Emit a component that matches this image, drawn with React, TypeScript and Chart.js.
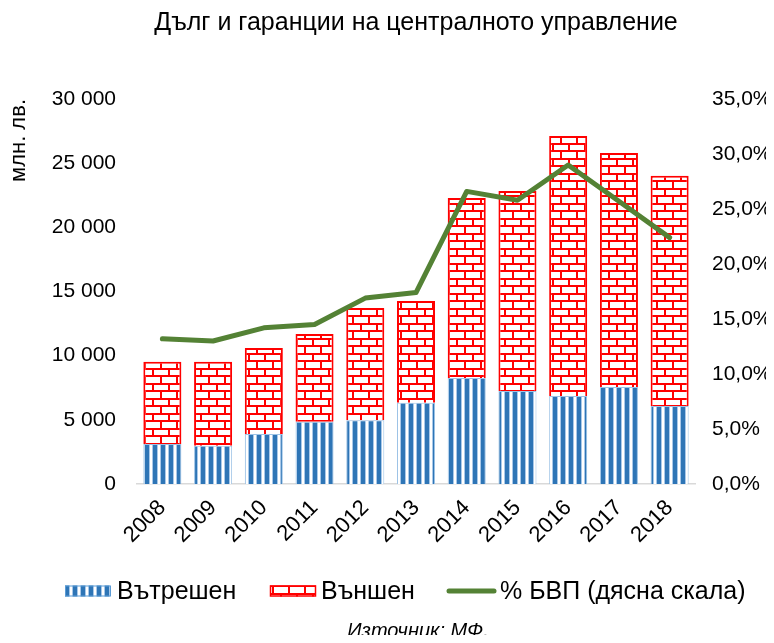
import React, { useEffect, useRef } from "react";
import { Chart, registerables } from "chart.js";

Chart.register(...registerables);

const TITLE = "Дълг и гаранции на централното управление";
const Y_TITLE = "млн. лв.";
const SOURCE = "Източник: МФ.";
const years = ["2008", "2009", "2010", "2011", "2012", "2013", "2014", "2015", "2016", "2017", "2018"];
const internalDebt = [3120, 2990, 3900, 4860, 4960, 6340, 8260, 7250, 6860, 7560, 6080];
const externalDebt = [6410, 6540, 6700, 6830, 8760, 7920, 14030, 15590, 20260, 18240, 17930];
const pctGdp = [13.2, 13.0, 14.2, 14.5, 16.9, 17.4, 26.6, 25.8, 29.0, 25.7, 22.4];
const seriesNames = ["Вътрешен", "Външен", "% БВП (дясна скала)"];

const FONT = "'Liberation Sans', Arial, sans-serif";
const BLUE = "#2E75B6";
const RED = "#FF0000";
const GREEN = "#548235";

function makeStripes(): CanvasPattern | string {
  const c = document.createElement("canvas");
  c.width = 8;
  c.height = 8;
  const g = c.getContext("2d");
  if (!g) return BLUE;
  g.fillStyle = "#FFFFFF";
  g.fillRect(0, 0, 8, 8);
  g.fillStyle = "#A9C8E8";
  g.fillRect(0, 0, 1, 8);
  g.fillRect(5, 0, 1, 8);
  g.fillStyle = BLUE;
  g.fillRect(1, 0, 4, 8);
  return g.createPattern(c, "repeat") as CanvasPattern;
}

function makeBricks(): CanvasPattern | string {
  const c = document.createElement("canvas");
  c.width = 16;
  c.height = 15;
  const g = c.getContext("2d");
  if (!g) return RED;
  g.fillStyle = "#FFFFFF";
  g.fillRect(0, 0, 16, 15);
  g.fillStyle = RED;
  g.fillRect(0, 0, 16, 2);
  g.fillRect(0, 7, 16, 2);
  g.fillRect(0, 0, 2, 7);
  g.fillRect(8, 7, 2, 8);
  return g.createPattern(c, "repeat") as CanvasPattern;
}

export default function App() {
  const ref = useRef<HTMLCanvasElement>(null);

  useEffect(() => {
    if (!ref.current) return;
    const stripes = makeStripes();
    const bricks = makeBricks();

    const legendPlugin = {
      id: "customLegend",
      afterDraw(chart: any) {
        const ctx = chart.ctx as CanvasRenderingContext2D;
        ctx.save();
        const cy = 583;
        ctx.font = `25px ${FONT}`;
        ctx.fillStyle = "#000";
        ctx.textBaseline = "middle";
        ctx.textAlign = "left";
        // item 1
        ctx.fillStyle = stripes as any;
        ctx.fillRect(57, cy - 5.5, 46, 11);
        ctx.strokeStyle = "#5B9BD5";
        ctx.lineWidth = 1;
        ctx.strokeRect(57.5, cy - 5, 45, 10);
        ctx.fillStyle = "#000";
        ctx.fillText(seriesNames[0], 109, cy + 1);
        // item 2
        ctx.fillStyle = bricks as any;
        ctx.fillRect(262, cy - 5.5, 46, 11);
        ctx.strokeStyle = RED;
        ctx.lineWidth = 1.5;
        ctx.strokeRect(262.5, cy - 5, 45, 10);
        ctx.fillStyle = "#000";
        ctx.fillText(seriesNames[1], 313, cy + 1);
        // item 3
        ctx.strokeStyle = GREEN;
        ctx.lineWidth = 5;
        ctx.lineCap = "round";
        ctx.beginPath();
        ctx.moveTo(441, cy);
        ctx.lineTo(486, cy);
        ctx.stroke();
        ctx.fillStyle = "#000";
        ctx.fillText(seriesNames[2], 492, cy + 1);
        // source
        ctx.font = `italic 20px ${FONT}`;
        ctx.textAlign = "center";
        ctx.fillText(SOURCE, 410, 623);
        ctx.restore();
      },
    };

    const chart = new Chart(ref.current, {
      type: "bar",
      data: {
        labels: years,
        datasets: [
          {
            type: "bar",
            label: seriesNames[0],
            data: internalDebt,
            backgroundColor: stripes as any,
            borderColor: "#9DC3E6",
            borderWidth: 1,
            borderSkipped: "bottom",
            yAxisID: "y",
            order: 1,
            categoryPercentage: 1,
            barPercentage: 0.75,
          },
          {
            type: "bar",
            label: seriesNames[1],
            data: externalDebt,
            backgroundColor: bricks as any,
            borderColor: RED,
            borderWidth: 2,
            yAxisID: "y",
            order: 1,
            categoryPercentage: 1,
            barPercentage: 0.75,
          },
          {
            type: "line",
            label: seriesNames[2],
            data: pctGdp,
            borderColor: GREEN,
            borderWidth: 5,
            pointRadius: 0,
            tension: 0,
            yAxisID: "y1",
            order: 0,
            borderCapStyle: "round",
            borderJoinStyle: "round",
          } as any,
        ],
      },
      options: {
        animation: false,
        responsive: false,
        maintainAspectRatio: false,
        layout: { padding: { left: 0, right: 0, top: 0, bottom: 71 } },
        plugins: {
          legend: { display: false },
          tooltip: { enabled: false },
          title: {
            display: true,
            text: TITLE,
            fullSize: false,
            color: "#000",
            font: { family: FONT, size: 25, weight: "normal", lineHeight: 1.2 },
            padding: { top: 0, bottom: 61 },
          },
        },
        scales: {
          x: {
            stacked: true,
            grid: { display: false },
            border: { display: true, color: "#D9D9D9", width: 1.5 },
            ticks: {
              color: "#000",
              font: { family: FONT, size: 22 },
              minRotation: 45,
              maxRotation: 45,
              padding: 3,
            },
            afterFit: (s: any) => {
              s.height = 80;
            },
          },
          y: {
            stacked: true,
            min: 0,
            max: 30000,
            grid: { display: false, drawTicks: false },
            border: { display: false },
            ticks: {
              stepSize: 5000,
              color: "#000",
              padding: 21,
              font: { family: FONT, size: 21 },
              callback: (v: any) => (v === 0 ? "0" : `${Number(v) / 1000} 000`),
            },
            title: {
              display: true,
              text: Y_TITLE,
              align: "end",
              color: "#000",
              font: { family: FONT, size: 22, lineHeight: 1 },
              padding: 0,
            },
            afterFit: (s: any) => {
              s.width = 129;
            },
          },
          y1: {
            position: "right",
            min: 0,
            max: 35,
            grid: { display: false, drawTicks: false },
            border: { display: false },
            ticks: {
              stepSize: 5,
              color: "#000",
              padding: 17,
              font: { family: FONT, size: 21 },
              callback: (v: any) => Number(v).toFixed(1).replace(".", ",") + "%",
            },
            afterFit: (s: any) => {
              s.width = 71;
            },
          },
        },
      } as any,
      plugins: [legendPlugin],
    });
    return () => chart.destroy();
  }, []);

  return (
    <div style={{ width: 758, height: 627 }}>
      <canvas ref={ref} width={758} height={627} style={{ display: "block", width: 758, height: 627 }} />
    </div>
  );
}
